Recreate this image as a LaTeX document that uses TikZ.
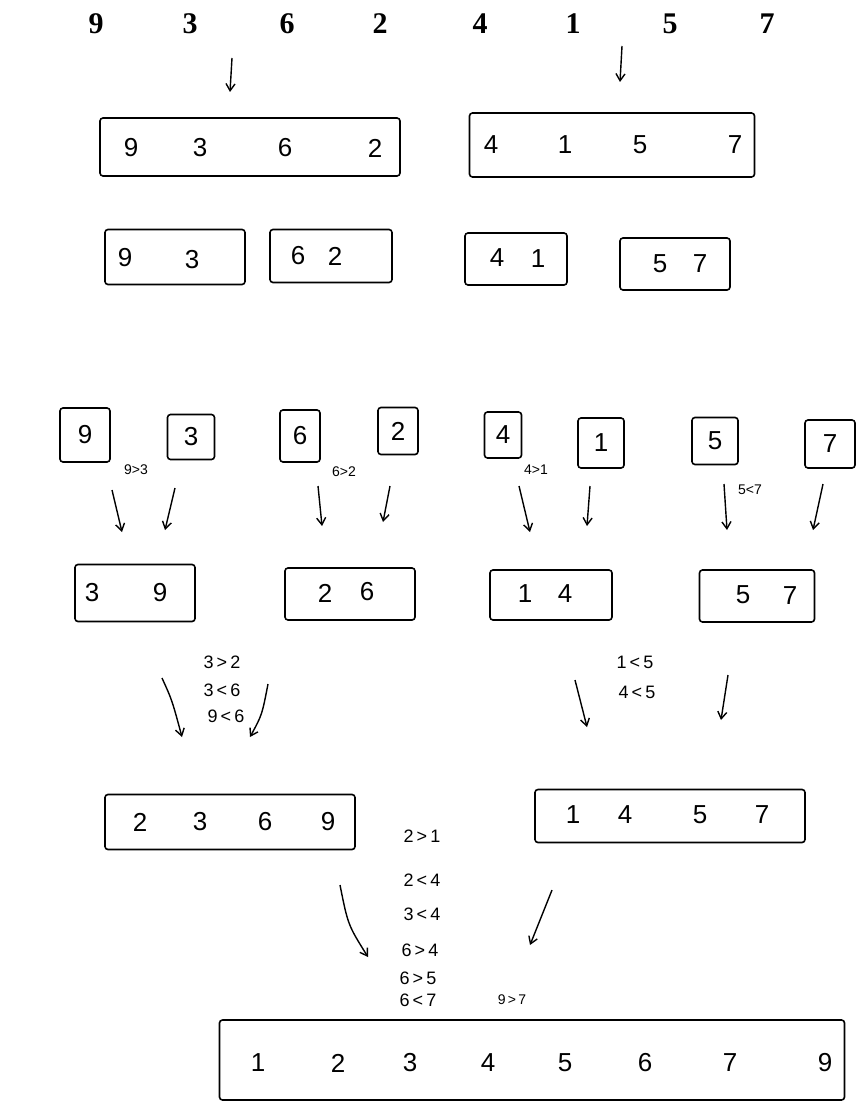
\documentclass[tikz,border=0pt]{standalone}
\usepackage{fontspec}
\setmainfont{Liberation Serif}
\newfontfamily\hand{Liberation Sans}
\usetikzlibrary{arrows.meta}
\tikzset{
  box/.style={draw, line width=1.6pt, rounded corners=3pt, inner sep=0pt},
  dig/.style={font=\hand\fontsize{26}{28}\selectfont, inner sep=0pt},
  topdig/.style={font=\bfseries\fontsize{30}{32}\selectfont, inner sep=0pt},
  cmp/.style={font=\hand\fontsize{14}{16}\selectfont, inner sep=0pt},
  cmpb/.style={font=\hand\fontsize{18}{20}\selectfont, inner sep=0pt},
  arr/.style={line width=1.4pt, -{Straight Barb[length=7pt,width=9pt]}},
}
\begin{document}
\begin{tikzpicture}[x=1pt,y=-1pt]
\useasboundingbox (0,0) rectangle (858,1113);
% top numbers
\foreach \v/\x [count=\i] in {9/96,3/190,6/287,2/380,4/480,1/573,5/670,7/767}
  \node[topdig] (t\i) at (\x,24) {\v};
\coordinate (a1s) at (232,58); \coordinate (a1e) at (230,92);
\coordinate (a2s) at (622,46); \coordinate (a2e) at (620,82);
\draw[arr] (a1s) -- (a1e);
\draw[arr] (a2s) -- (a2e);
% row 1
\node[box, minimum width=300pt, minimum height=58pt] (r1L) at (250,147) {};
\node[box, minimum width=285pt, minimum height=64pt] (r1R) at (612,145) {};
\foreach \v/\x [count=\i] in {9/131,3/200,6/285,2/375}
  \node[dig] (r1Ld\i) at (\x,148) {\v};
\foreach \v/\x [count=\i] in {4/491,1/565,5/640,7/735}
  \node[dig] (r1Rd\i) at (\x,145) {\v};
% row 2
\node[box, minimum width=140pt, minimum height=55pt] (r2a) at (175,257) {};
\node[box, minimum width=122pt, minimum height=53pt] (r2b) at (331,256) {};
\node[box, minimum width=102pt, minimum height=52pt] (r2c) at (516,259) {};
\node[box, minimum width=110pt, minimum height=52pt] (r2d) at (675,264) {};
\node[dig] at (125,258) {9}; \node[dig] at (192,260) {3};
\node[dig] at (298,256) {6}; \node[dig] at (335,256) {2};
\node[dig] at (497,258) {4}; \node[dig] at (538,259) {1};
\node[dig] at (660,264) {5}; \node[dig] at (700,264) {7};
% row 3 singles
\node[box, minimum width=50pt, minimum height=54pt] (s9) at (85,435) {\hand\fontsize{26}{28}\selectfont 9};
\node[box, minimum width=47pt, minimum height=45pt] (s3) at (191,437) {\hand\fontsize{26}{28}\selectfont 3};
\node[box, minimum width=40pt, minimum height=52pt] (s6) at (300,436) {\hand\fontsize{26}{28}\selectfont 6};
\node[box, minimum width=40pt, minimum height=47pt] (s2) at (398,431) {\hand\fontsize{26}{28}\selectfont 2};
\node[box, minimum width=37pt, minimum height=46pt] (s4) at (503,435) {\hand\fontsize{26}{28}\selectfont 4};
\node[box, minimum width=46pt, minimum height=50pt] (s1) at (601,443) {\hand\fontsize{26}{28}\selectfont 1};
\node[box, minimum width=46pt, minimum height=47pt] (s5) at (715,441) {\hand\fontsize{26}{28}\selectfont 5};
\node[box, minimum width=50pt, minimum height=48pt] (s7) at (830,444) {\hand\fontsize{26}{28}\selectfont 7};
\node[cmp] (c1) at (136,470) {9>3};
\node[cmp] (c2) at (344,472) {6>2};
\node[cmp] (c3) at (536,470) {4>1};
\node[cmp] (c4) at (750,490) {5<7};
% row 3 arrows
\foreach \n/\xs/\ys/\xe/\ye in {a/112/490/122/532, b/175/488/165/530, c/318/486/322/526, d/390/486/383/522, e/519/486/530/532, f/590/486/587/526, g/724/484/727/530, h/823/484/813/530}{
  \coordinate (p\n s) at (\xs,\ys); \coordinate (p\n e) at (\xe,\ye);
  \draw[arr] (p\n s) -- (p\n e);
}
% row 4
\node[box, minimum width=120pt, minimum height=57pt] (r4a) at (135,593) {};
\node[box, minimum width=130pt, minimum height=52pt] (r4b) at (350,594) {};
\node[box, minimum width=122pt, minimum height=50pt] (r4c) at (551,595) {};
\node[box, minimum width=115pt, minimum height=52pt] (r4d) at (757,596) {};
\node[dig] at (92,593) {3}; \node[dig] at (160,593) {9};
\node[dig] at (325,593) {2}; \node[dig] at (367,592) {6};
\node[dig] at (525,594) {1}; \node[dig] at (565,594) {4};
\node[dig] at (743,595) {5}; \node[dig] at (790,596) {7};
\node[cmpb] (c5) at (222,662) {3\,>\,2};
\node[cmpb] (c6) at (222,690) {3\,<\,6};
\node[cmpb] (c7) at (226,716) {9\,<\,6};
\node[cmpb] (c8) at (635,662) {1\,<\,5};
\node[cmpb] (c9) at (637,692) {4\,<\,5};
\coordinate (q1s) at (162,678); \coordinate (q1e) at (182,737);
\coordinate (q2s) at (268,684); \coordinate (q2e) at (250,737);
\coordinate (q3s) at (575,680); \coordinate (q3e) at (587,727);
\coordinate (q4s) at (728,675); \coordinate (q4e) at (721,720);
\draw[arr] (q1s) .. controls (172,700) .. (q1e);
\draw[arr] (q2s) .. controls (262,715) .. (q2e);
\draw[arr] (q3s) -- (q3e);
\draw[arr] (q4s) -- (q4e);
% row 5
\node[box, minimum width=250pt, minimum height=55pt] (r5a) at (230,822) {};
\node[box, minimum width=270pt, minimum height=53pt] (r5b) at (670,816) {};
\foreach \v/\x in {2/140,3/200,6/265,9/328} \node[dig] at (\x,822) {\v};
\foreach \v/\x in {1/573,4/625,5/700,7/762} \node[dig] at (\x,815) {\v};
\node[cmpb] (m1) at (422,836) {2\,>\,1};
\node[cmpb] (m2) at (422,880) {2\,<\,4};
\node[cmpb] (m3) at (422,914) {3\,<\,4};
\node[cmpb] (m4) at (420,950) {6\,>\,4};
\node[cmpb] (m5) at (418,978) {6\,>\,5};
\node[cmpb] (m6) at (418,1000) {6\,<\,7};
\node[cmp] (m7) at (512,1000) {9\,>\,7};
\coordinate (u1s) at (340,885); \coordinate (u1e) at (368,957);
\coordinate (u2s) at (552,890); \coordinate (u2e) at (530,945);
\draw[arr] (u1s) .. controls (348,925) .. (u1e);
\draw[arr] (u2s) -- (u2e);
% final
\node[box, minimum width=625pt, minimum height=80pt] (fin) at (532,1060) {};
\foreach \v/\x in {1/258,2/338,3/410,4/488,5/565,6/645,7/730,9/825} \node[dig] at (\x,1063) {\v};
\end{tikzpicture}
\end{document}
